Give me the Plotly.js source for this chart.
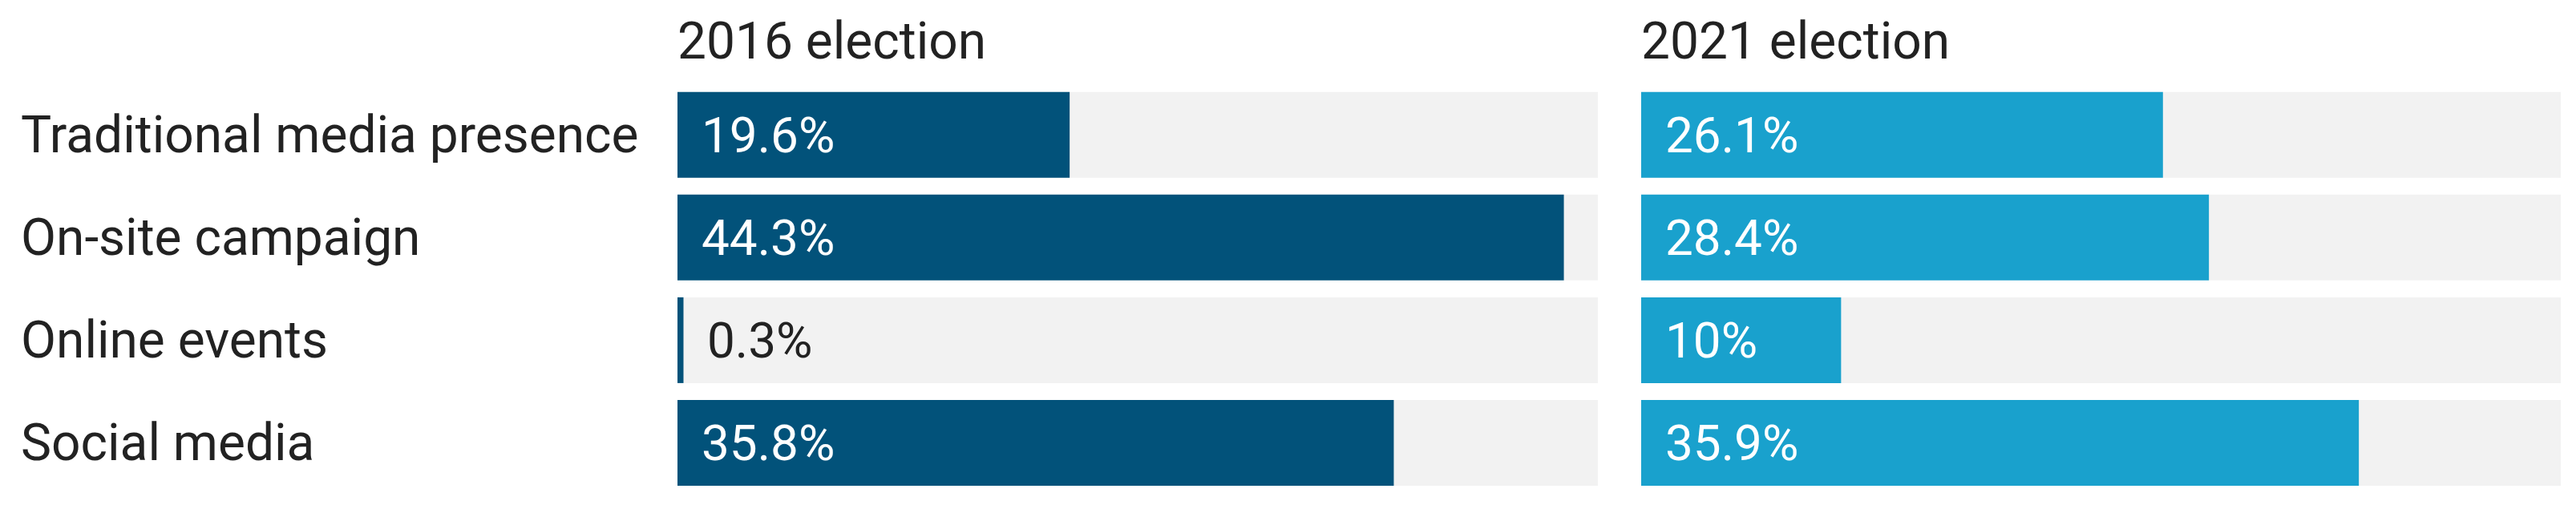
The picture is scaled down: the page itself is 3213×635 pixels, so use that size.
<!DOCTYPE html>
<html>
<head>
<meta charset="utf-8">
<script src="https://cdn.plot.ly/plotly-3.0.1.min.js"></script>
<style>
html, body {margin:0; padding:0; background:#ffffff;}
#chart {width:3213px; height:635px;}
</style>
</head>
<body>
<div id="chart"></div>
<script>
// Channel shares per election (percent).
var categories = ['Traditional media presence', 'On-site campaign', 'Online events', 'Social media'];
var share2016 = [19.6, 44.3, 0.3, 35.8];
var share2021 = [26.1, 28.4, 10, 35.9];
var panelTitles = ['2016 election', '2021 election'];
var xMax = 46;

var FONT = 'Roboto, "Open Sans", sans-serif';
var colors = ['#02527a', '#19a1cd'];

// Grey track behind each bar, full width of the axis.
function track(xa, ya) {
return {
type: 'bar', orientation: 'h',
y: categories,
x: categories.map(function(){ return xMax; }),
xaxis: xa, yaxis: ya,
marker: {color: '#f2f2f2', line: {width: 0}},
hoverinfo: 'skip', showlegend: false
};
}

function bars(values, color, xa, ya) {
return {
type: 'bar', orientation: 'h',
y: categories, x: values,
xaxis: xa, yaxis: ya,
marker: {color: color, line: {width: 0}},
hoverinfo: 'skip', showlegend: false
};
}

// Value labels: inside the bar in white, after the bar in dark if too short.
function valueLabels(values, xref, yref) {
return values.map(function(v, i){
var inside = v >= 5;
return {
xref: xref, yref: yref,
x: inside ? 0 : v, y: categories[i],
xanchor: 'left', yanchor: 'middle',
xshift: 28,
text: v + '%',
showarrow: false,
font: {family: FONT, size: 62, color: inside ? '#ffffff' : '#222222'}
};
});
}

var data = [
track('x', 'y'), bars(share2016, colors[0], 'x', 'y'),
track('x2', 'y2'), bars(share2021, colors[1], 'x2', 'y2')
];

var annotations = [];
// Category labels, left aligned.
categories.forEach(function(c){
annotations.push({
xref: 'paper', yref: 'y', x: 24 / 3213, y: c,
xanchor: 'left', yanchor: 'middle',
text: c, showarrow: false,
font: {family: FONT, size: 64, color: '#222222'}
});
});
// Panel titles.
panelTitles.forEach(function(t, i){
annotations.push({
xref: (i === 0 ? 'x' : 'x2') + ' domain', yref: 'paper',
x: 0, y: 1 - 52 / 635,
xanchor: 'left', yanchor: 'middle', xshift: -2,
text: t, showarrow: false,
font: {family: FONT, size: 64, color: '#222222'}
});
});
annotations = annotations.concat(valueLabels(share2016, 'x', 'y'), valueLabels(share2021, 'x2', 'y2'));

var yCommon = {
type: 'category', range: [3.5, -0.5],
domain: [0.029, 0.836],
showticklabels: false, showgrid: false, zeroline: false, showline: false, ticks: ''
};
var xCommon = {
range: [0, xMax],
showticklabels: false, showgrid: false, zeroline: false, showline: false, ticks: ''
};

var layout = {
width: 3213, height: 635,
margin: {l: 0, r: 0, t: 0, b: 0},
paper_bgcolor: '#ffffff', plot_bgcolor: '#ffffff',
barmode: 'overlay',
bargap: 0.165,
font: {family: FONT},
xaxis: Object.assign({}, xCommon, {domain: [845 / 3213, 1993 / 3213], anchor: 'y'}),
xaxis2: Object.assign({}, xCommon, {domain: [2047 / 3213, 3194 / 3213], anchor: 'y2'}),
yaxis: Object.assign({}, yCommon, {anchor: 'x'}),
yaxis2: Object.assign({}, yCommon, {anchor: 'x2'}),
annotations: annotations
};

Plotly.newPlot('chart', data, layout, {displayModeBar: false, staticPlot: true});
</script>
</body>
</html>
